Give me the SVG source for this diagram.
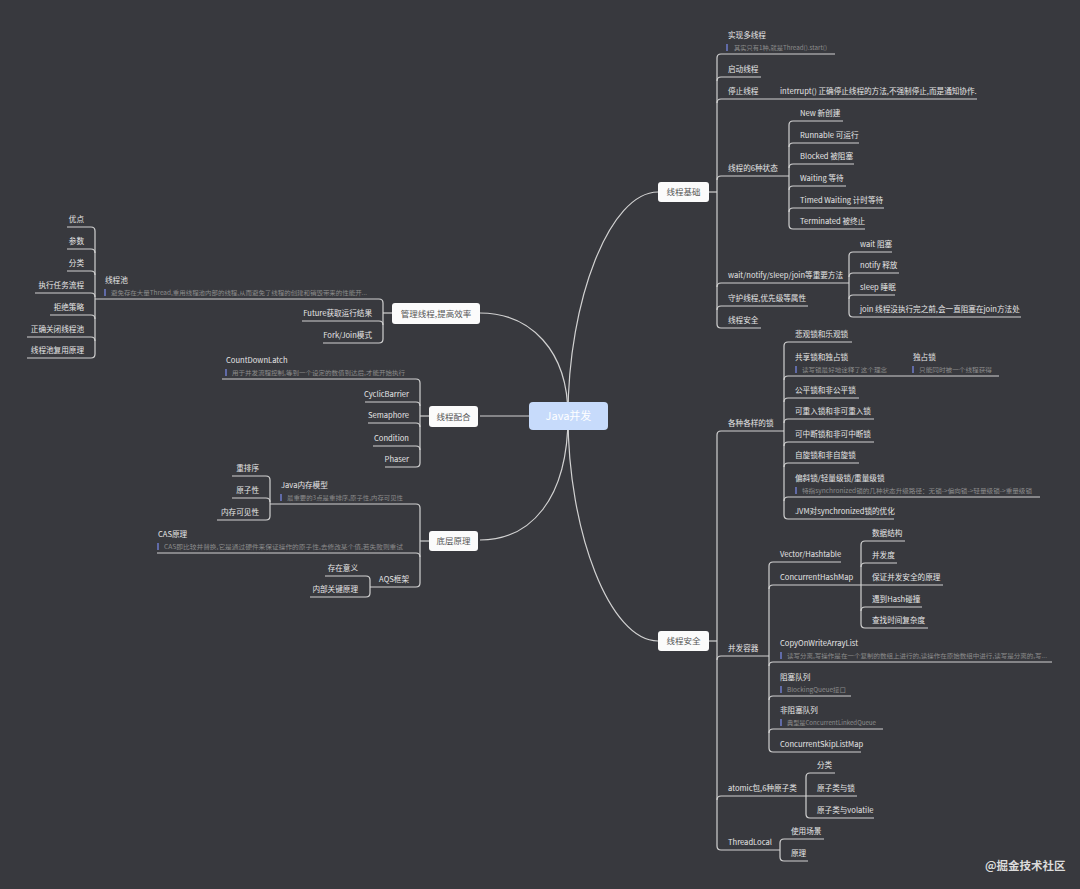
<svg xmlns="http://www.w3.org/2000/svg" width="1080" height="889" viewBox="0 0 1080 889">
<style>
.ln{fill:none;stroke:#d2d2d2;stroke-width:1.2}
.t{font-family:'Noto Sans CJK SC','Noto Sans',sans-serif;font-size:7.6px;fill:#e6e6e6}
.te{font-family:'Noto Sans CJK SC','Noto Sans',sans-serif;font-size:7.6px;fill:#e6e6e6;text-anchor:end}
.n{font-family:'Noto Sans CJK SC','Noto Sans',sans-serif;font-size:6px;fill:#8c8c8c}
.bar{stroke:#7280d6;stroke-width:1.4}
.box{fill:#fbfbfb}
.bt{font-family:'Noto Sans CJK SC','Noto Sans',sans-serif;font-size:8.5px;fill:#555;text-anchor:middle}
</style>
<rect width="1080" height="889" fill="#38393e"/>
<g id="connectors" class="ln">
<path d="M568,416 C568,300 610,192 658,192"/>
<path d="M568,416 C568,532 610,641 658,641"/>
<path d="M480,313 C530,313 568,350 568,416"/>
<path d="M480,540 C530,540 568,500 568,416"/>
<path d="M480,416 H530"/>
<path d="M709,192 H717"/>
<path d="M717,58 V324"/>
<path d="M835,54 H721 Q717,54 717,58"/>
<path d="M761,77 H721 Q717,77 717,81"/>
<path d="M977,99 H721 Q717,99 717,103"/>
<path d="M789,176 H721 Q717,176 717,180"/>
<path d="M849,283 H721 Q717,283 717,287"/>
<path d="M808,306 H721 Q717,306 717,310"/>
<path d="M761,328 H721 Q717,328 717,324"/>
<path d="M789,125 V225"/>
<path d="M843,121 H793 Q789,121 789,125"/>
<path d="M859,143 H793 Q789,143 789,147"/>
<path d="M854,164 H793 Q789,164 789,168"/>
<path d="M846,186 H793 Q789,186 789,190"/>
<path d="M884,208 H793 Q789,208 789,212"/>
<path d="M865,229 H793 Q789,229 789,225"/>
<path d="M849,256 V313"/>
<path d="M892,252 H853 Q849,252 849,256"/>
<path d="M899,273 H853 Q849,273 849,277"/>
<path d="M895,295 H853 Q849,295 849,299"/>
<path d="M1021,317 H853 Q849,317 849,313"/>
<path d="M709,641 H717"/>
<path d="M717,435 V846"/>
<path d="M784,431 H721 Q717,431 717,435"/>
<path d="M769,656 H721 Q717,656 717,660"/>
<path d="M857,796 H721 Q717,796 717,800"/>
<path d="M780,850 H721 Q717,850 717,846"/>
<path d="M784,346 V515"/>
<path d="M852,342 H788 Q784,342 784,346"/>
<path d="M999,376 H788 Q784,376 784,380"/>
<path d="M859,398 H788 Q784,398 784,402"/>
<path d="M874,419 H788 Q784,419 784,423"/>
<path d="M874,442 H788 Q784,442 784,446"/>
<path d="M859,463 H788 Q784,463 784,467"/>
<path d="M1040,497 H788 Q784,497 784,501"/>
<path d="M894,519 H788 Q784,519 784,515"/>
<path d="M769,566 V748"/>
<path d="M841,562 H773 Q769,562 769,566"/>
<path d="M943,585 H773 Q769,585 769,589"/>
<path d="M1052,662 H773 Q769,662 769,666"/>
<path d="M851,696 H773 Q769,696 769,700"/>
<path d="M883,729 H773 Q769,729 769,733"/>
<path d="M861,752 H773 Q769,752 769,748"/>
<path d="M861,545 V624"/>
<path d="M905,541 H865 Q861,541 861,545"/>
<path d="M897,563 H865 Q861,563 861,567"/>
<path d="M922,607 H865 Q861,607 861,611"/>
<path d="M928,628 H865 Q861,628 861,624"/>
<path d="M806,777 V814"/>
<path d="M835,773 H810 Q806,773 806,777"/>
<path d="M874,818 H810 Q806,818 806,814"/>
<path d="M780,843 V857"/>
<path d="M824,839 H784 Q780,839 780,843"/>
<path d="M808,861 H784 Q780,861 780,857"/>
<path d="M392,313 H383"/>
<path d="M383,303 V339"/>
<path d="M95,299 H379 Q383,299 383,303"/>
<path d="M302,321 H379 Q383,321 383,325"/>
<path d="M323,343 H379 Q383,343 383,339"/>
<path d="M95,231 V354"/>
<path d="M67,227 H91 Q95,227 95,231"/>
<path d="M67,249 H91 Q95,249 95,253"/>
<path d="M67,271 H91 Q95,271 95,275"/>
<path d="M35,293 H91 Q95,293 95,297"/>
<path d="M50,315 H91 Q95,315 95,319"/>
<path d="M27,337 H91 Q95,337 95,341"/>
<path d="M27,358 H91 Q95,358 95,354"/>
<path d="M429,416 H420"/>
<path d="M420,383 V463"/>
<path d="M222,379 H416 Q420,379 420,383"/>
<path d="M365,402 H416 Q420,402 420,406"/>
<path d="M368,423 H416 Q420,423 420,427"/>
<path d="M373,446 H416 Q420,446 420,450"/>
<path d="M385,467 H416 Q420,467 420,463"/>
<path d="M429,541 H420"/>
<path d="M420,508 V583"/>
<path d="M270,504 H416 Q420,504 420,508"/>
<path d="M157,553 H416 Q420,553 420,557"/>
<path d="M370,587 H416 Q420,587 420,583"/>
<path d="M270,480 V516"/>
<path d="M232,476 H266 Q270,476 270,480"/>
<path d="M232,498 H266 Q270,498 270,502"/>
<path d="M217,520 H266 Q270,520 270,516"/>
<path d="M370,580 V593"/>
<path d="M325,576 H366 Q370,576 370,580"/>
<path d="M310,597 H366 Q370,597 370,593"/>
</g>
<g id="root"><rect x="529" y="402" width="79" height="28" rx="4" fill="#c7dbfb"/><text x="568.5" y="420" font-family="'Noto Sans CJK SC','Noto Sans',sans-serif" font-size="11" fill="#ffffff" text-anchor="middle">Java并发</text></g>
<g id="b-basic"><rect class="box" x="658" y="182" width="51" height="20" rx="3"/><text class="bt" x="683.5" y="195">线程基础</text></g>
<g id="b-safe"><rect class="box" x="658" y="631" width="51" height="20" rx="3"/><text class="bt" x="683.5" y="644">线程安全</text></g>
<g id="b-manage"><rect class="box" x="392" y="303" width="88" height="21" rx="3"/><text class="bt" x="436" y="316.5">管理线程,提高效率</text></g>
<g id="b-coop"><rect class="box" x="429" y="406" width="49" height="21" rx="3"/><text class="bt" x="453.5" y="419.5">线程配合</text></g>
<g id="b-low"><rect class="box" x="429" y="531" width="49" height="20" rx="3"/><text class="bt" x="453.5" y="544">底层原理</text></g>

<g id="n-impl"><text class="t" x="728" y="38">实现多线程</text><line class="bar" x1="727" y1="44" x2="727" y2="51"/><text class="n" x="734" y="50" textLength="93" lengthAdjust="spacingAndGlyphs">其实只有1种,就是Thread().start()</text></g>
<g id="n-start"><text class="t" x="728" y="72">启动线程</text></g>
<g id="n-stop"><text class="t" x="728" y="94">停止线程</text></g>
<g id="n-interrupt"><text class="t" x="780" y="94">interrupt() 正确停止线程的方法,不强制停止,而是通知协作.</text></g>
<g id="n-states"><text class="t" x="728" y="171">线程的6种状态</text></g>
<g id="n-new"><text class="t" x="800" y="116">New 新创建</text></g>
<g id="n-runnable"><text class="t" x="800" y="138">Runnable 可运行</text></g>
<g id="n-blocked"><text class="t" x="800" y="159">Blocked 被阻塞</text></g>
<g id="n-waiting"><text class="t" x="800" y="181">Waiting 等待</text></g>
<g id="n-timed"><text class="t" x="800" y="203">Timed Waiting 计时等待</text></g>
<g id="n-term"><text class="t" x="800" y="224">Terminated 被终止</text></g>
<g id="n-methods"><text class="t" x="728" y="278">wait/notify/sleep/join等重要方法</text></g>
<g id="n-wait"><text class="t" x="860" y="247">wait 阻塞</text></g>
<g id="n-notify"><text class="t" x="860" y="268">notify 释放</text></g>
<g id="n-sleep"><text class="t" x="860" y="290">sleep 睡眠</text></g>
<g id="n-join"><text class="t" x="860" y="312">join 线程没执行完之前,会一直阻塞在join方法处</text></g>
<g id="n-daemon"><text class="t" x="728" y="301">守护线程,优先级等属性</text></g>
<g id="n-tsafe"><text class="t" x="728" y="323">线程安全</text></g>

<g id="n-locks"><text class="t" x="728" y="426">各种各样的锁</text></g>
<g id="n-l1"><text class="t" x="795" y="337">悲观锁和乐观锁</text></g>
<g id="n-l2"><text class="t" x="795" y="360">共享锁和独占锁</text><line class="bar" x1="796" y1="366" x2="796" y2="373"/><text class="n" x="802" y="372" textLength="85" lengthAdjust="spacingAndGlyphs">读写锁最好地诠释了这个理念</text></g>
<g id="n-l2b"><text class="t" x="913" y="360">独占锁</text><line class="bar" x1="913" y1="366" x2="913" y2="373"/><text class="n" x="919" y="372" textLength="73" lengthAdjust="spacingAndGlyphs">只能同时被一个线程获得</text></g>
<g id="n-l3"><text class="t" x="795" y="393">公平锁和非公平锁</text></g>
<g id="n-l4"><text class="t" x="795" y="414">可重入锁和非可重入锁</text></g>
<g id="n-l5"><text class="t" x="795" y="437">可中断锁和非可中断锁</text></g>
<g id="n-l6"><text class="t" x="795" y="458">自旋锁和非自旋锁</text></g>
<g id="n-l7"><text class="t" x="795" y="481">偏斜锁/轻量级锁/重量级锁</text><line class="bar" x1="796" y1="487" x2="796" y2="494"/><text class="n" x="802" y="493" textLength="230" lengthAdjust="spacingAndGlyphs">特指synchronized锁的几种状态升级路径：无锁-&gt;偏向锁-&gt;轻量级锁-&gt;重量级锁</text></g>
<g id="n-l8"><text class="t" x="795" y="514">JVM对synchronized锁的优化</text></g>

<g id="n-cont"><text class="t" x="728" y="651">并发容器</text></g>
<g id="n-c1"><text class="t" x="780" y="557">Vector/Hashtable</text></g>
<g id="n-c2"><text class="t" x="780" y="580">ConcurrentHashMap</text></g>
<g id="n-h1"><text class="t" x="872" y="536">数据结构</text></g>
<g id="n-h2"><text class="t" x="872" y="558">并发度</text></g>
<g id="n-h3"><text class="t" x="872" y="580">保证并发安全的原理</text></g>
<g id="n-h4"><text class="t" x="872" y="602">遇到Hash碰撞</text></g>
<g id="n-h5"><text class="t" x="872" y="623">查找时间复杂度</text></g>
<g id="n-c3"><text class="t" x="780" y="646">CopyOnWriteArrayList</text><line class="bar" x1="781" y1="652" x2="781" y2="659"/><text class="n" x="787" y="658" textLength="260" lengthAdjust="spacingAndGlyphs">读写分离,写操作是在一个复制的数组上进行的,读操作在原始数组中进行,读写是分离的,写...</text></g>
<g id="n-c4"><text class="t" x="780" y="680">阻塞队列</text><line class="bar" x1="781" y1="686" x2="781" y2="693"/><text class="n" x="787" y="692" textLength="59" lengthAdjust="spacingAndGlyphs">BlockingQueue接口</text></g>
<g id="n-c5"><text class="t" x="780" y="713">非阻塞队列</text><line class="bar" x1="781" y1="719" x2="781" y2="726"/><text class="n" x="787" y="725" textLength="89" lengthAdjust="spacingAndGlyphs">典型是ConcurrentLinkedQueue</text></g>
<g id="n-c6"><text class="t" x="780" y="747">ConcurrentSkipListMap</text></g>

<g id="n-atomic"><text class="t" x="728" y="791">atomic包,6种原子类</text></g>
<g id="n-a1"><text class="t" x="817" y="768">分类</text></g>
<g id="n-a2"><text class="t" x="817" y="791">原子类与锁</text></g>
<g id="n-a3"><text class="t" x="817" y="813">原子类与volatile</text></g>
<g id="n-tl"><text class="t" x="728" y="845">ThreadLocal</text></g>
<g id="n-tl1"><text class="t" x="791" y="834">使用场景</text></g>
<g id="n-tl2"><text class="t" x="791" y="856">原理</text></g>

<g id="n-pool"><text class="t" x="105" y="283">线程池</text><line class="bar" x1="105" y1="289" x2="105" y2="296"/><text class="n" x="111" y="295" textLength="256" lengthAdjust="spacingAndGlyphs">避免存在大量Thread,重用线程池内部的线程,从而避免了线程的创建和销毁带来的性能开...</text></g>
<g id="n-p1"><text class="te" x="84" y="222">优点</text></g>
<g id="n-p2"><text class="te" x="84" y="244">参数</text></g>
<g id="n-p3"><text class="te" x="84" y="266">分类</text></g>
<g id="n-p4"><text class="te" x="84" y="288">执行任务流程</text></g>
<g id="n-p5"><text class="te" x="84" y="310">拒绝策略</text></g>
<g id="n-p6"><text class="te" x="84" y="332">正确关闭线程池</text></g>
<g id="n-p7"><text class="te" x="84" y="353">线程池复用原理</text></g>
<g id="n-future"><text class="te" x="372" y="316">Future获取运行结果</text></g>
<g id="n-fork"><text class="te" x="372" y="338">Fork/Join模式</text></g>

<g id="n-cdl"><text class="t" x="226" y="363">CountDownLatch</text><line class="bar" x1="226" y1="369" x2="226" y2="376"/><text class="n" x="232" y="375" textLength="173" lengthAdjust="spacingAndGlyphs">用于并发流程控制,等到一个设定的数值到达后,才能开始执行</text></g>
<g id="n-cb"><text class="te" x="409" y="397">CyclicBarrier</text></g>
<g id="n-sem"><text class="te" x="409" y="418">Semaphore</text></g>
<g id="n-cond"><text class="te" x="409" y="441">Condition</text></g>
<g id="n-phaser"><text class="te" x="409" y="462">Phaser</text></g>

<g id="n-jmm"><text class="t" x="281" y="488">Java内存模型</text><line class="bar" x1="281" y1="494" x2="281" y2="501"/><text class="n" x="287" y="500" textLength="116" lengthAdjust="spacingAndGlyphs">最重要的3点是重排序,原子性,内存可见性</text></g>
<g id="n-j1"><text class="te" x="259" y="471">重排序</text></g>
<g id="n-j2"><text class="te" x="259" y="493">原子性</text></g>
<g id="n-j3"><text class="te" x="259" y="515">内存可见性</text></g>
<g id="n-cas"><text class="t" x="158" y="537">CAS原理</text><line class="bar" x1="158" y1="543" x2="158" y2="550"/><text class="n" x="164" y="549" textLength="239" lengthAdjust="spacingAndGlyphs">CAS即比较并替换,它是通过硬件来保证操作的原子性,去修改某个值,若失败则重试</text></g>
<g id="n-aqs"><text class="te" x="409" y="582">AQS框架</text></g>
<g id="n-q1"><text class="te" x="358" y="571">存在意义</text></g>
<g id="n-q2"><text class="te" x="358" y="592">内部关键原理</text></g>

<text x="985" y="870" font-family="'Noto Sans CJK SC','Noto Sans',sans-serif" font-size="11.5" font-weight="bold" fill="#dcdcdc">@掘金技术社区</text>
</svg>
